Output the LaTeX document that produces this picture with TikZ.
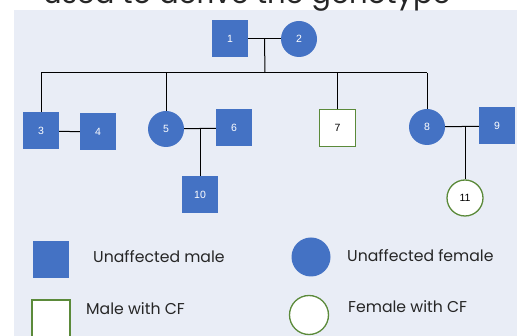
\documentclass[tikz,border=0pt]{standalone}
\usepackage{fontspec}
\setsansfont{Liberation Sans}
\newfontfamily\legendfont{Poppins}
\usetikzlibrary{calc,positioning}
\definecolor{pedblue}{HTML}{4472C4}
\definecolor{cfgreen}{HTML}{5B8A3A}
\definecolor{panelbg}{HTML}{E9EDF6}
\tikzset{
      male/.style   = {rectangle, fill=pedblue, minimum width=36pt, minimum height=37pt,
                       inner sep=0pt, text=white, font=\sffamily\fontsize{10.5}{12}\selectfont},
      female/.style = {circle, fill=pedblue, minimum size=36pt, inner sep=0pt,
                       text=white, font=\sffamily\fontsize{10.5}{12}\selectfont},
      cfmale/.style   = {male, fill=white, draw=cfgreen, line width=1.3pt, text=black},
      cffemale/.style = {female, fill=white, draw=cfgreen, line width=1.3pt, text=black},
      pedline/.style  = {black, line width=1pt},
      legend text/.style = {anchor=west, inner sep=0pt, font=\legendfont\fontsize{15.7}{18}\selectfont, text=black!85},
    }

\begin{document}
\begin{tikzpicture}[x=1pt,y=-1pt]
        \useasboundingbox (0,0) rectangle (517,336);
        \fill[panelbg] (14,10) rectangle (517,336);
        \node[anchor=base west, inner sep=0pt, font=\legendfont\fontsize{29}{32}\selectfont, text=black!85]
            (title) at (43,4) {used to derive the genotype};

        % generation I
        \node [male]   (n1) at (230,39)  {1};
        \node [female] (n2) at (299,39)  {2};
        % generation II
        \node [male]     (n3) at (41,131)  {3};
        \node [male]     (n4) at (98,132)  {4};
        \node [female]   (n5) at (166,129) {5};
        \node [male]     (n6) at (234,128) {6};
        \node [cfmale]   (n7) at (337.6,128) {7};
        \node [female]   (n8) at (427,127) {8};
        \node [male]     (n9) at (497,126) {9};
        % generation III
        \node [male]     (n10) at (200,195) {10};
        \node [cffemale] (n11) at (465,198) {11};

        \coordinate (m12) at ($(n1)!0.5!(n2)$);
        \coordinate (sib) at (265,73);

        \path[pedline]
        (n1) edge (n2)
        (m12) edge (sib)
        (n3 |- sib) edge (n8 |- sib)
        (n3) edge (n4)
        (n5) edge (n6)
        (n8) edge (n9)
        (n10 |- n5) edge (n10)
        (n11 |- n8) edge (n11);
        \foreach \c in {n3,n5,n7,n8}
            \draw[pedline] (\c |- sib) -- (\c);

        % legend
        \node [male]     (lm)  at (51,260)  {};
        \node [female, minimum size=39pt] (lf)  at (311,257) {};
        \node [cfmale, minimum height=40pt, minimum width=38pt] (lcm) at (51,320) {};
        \node [cffemale, minimum size=39pt] (lcf) at (309,315) {};
        \node [legend text] (tlm)  at (93,257)  {Unaffected male};
        \node [legend text] (tlf)  at (347,256) {Unaffected female};
        \node [legend text] (tlcm) at (86,309)  {Male with CF};
        \node [legend text] (tlcf) at (348,307) {Female with CF};
\end{tikzpicture}
\end{document}
